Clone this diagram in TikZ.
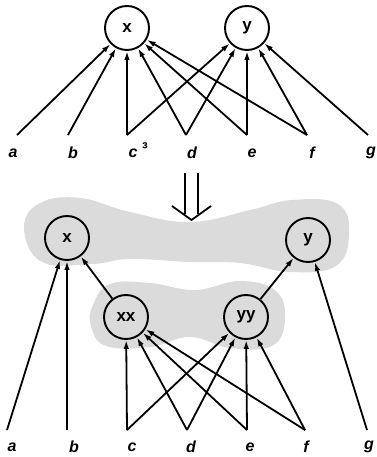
\documentclass[tikz,border=0pt]{standalone}
\usepackage{fontspec}
\setmainfont{Liberation Sans}
\usetikzlibrary{arrows.meta}
\begin{document}
\begin{tikzpicture}[x=1pt,y=-1pt,
  unit/.style={circle,draw,line width=1.9pt,minimum size=44pt,inner sep=0pt,font=\fontsize{17}{19}\selectfont\bfseries},
  lbl/.style={font=\fontsize{16}{18}\selectfont\bfseries\itshape},
  link/.style={line width=1.8pt,-{Latex[length=9pt,width=5.5pt]}},
  cloud/.style={fill=black!14,draw=none}]
\useasboundingbox (0,0) rectangle (376,457);
% grouping clouds
\fill[cloud] plot[smooth cycle,tension=0.7] coordinates {(24,228) (40,203) (80,198) (130,212) (190,222) (250,210) (292,200) (338,204) (349,234) (336,266) (290,272) (240,263) (190,262) (130,259) (92,264) (42,262)};
\fill[cloud] plot[smooth cycle,tension=0.7] coordinates {(93,305) (110,284) (150,283) (195,290) (240,281) (276,291) (285,320) (272,346) (230,348) (190,337) (150,347) (106,346) (91,326)};
% before
\node[unit] (x) at (127,28) {x};
\node[unit] (y) at (247,28) {y};
\foreach \n/\px/\lx in {a/17/13,b/68/73,c/127/133,d/186/192,e/247/252,f/307/312,g/368/371}{
  \coordinate (t\n) at (\px,135);
  \node[lbl] (l\n) at (\lx,153) {\n};
}
\node[font=\fontsize{17}{18}\selectfont\bfseries] (mark) at (145,149) {³};
\foreach \n in {a,b,c,d,e,f} \draw[link] (t\n) -- (x);
\foreach \n in {c,d,e,f,g} \draw[link] (t\n) -- (y);
% transformation
\draw[line width=1.8pt] (185,173) -- (185,214) (198,173) -- (198,214);
\draw[line width=1.8pt] (172,206) -- (191.5,220) -- (211,206);
% after
\node[unit] (x2) at (67,238) {x};
\node[unit] (y2) at (308,240) {y};
\node[unit] (xx) at (126,317) {xx};
\node[unit] (yy) at (246,317) {yy};
\foreach \n/\px/\lx in {a/7/12,b/67/74,c/127/132,d/187/191,e/247/250,f/305/306,g/367/369}{
  \coordinate (s\n) at (\px,430);
  \node[lbl] (m\n) at (\lx,447) {\n};
}
\draw[link] (sa) -- (x2);
\draw[link] (sb) -- (x2);
\draw[link] (xx) -- (x2);
\draw[link] (yy) -- (y2);
\draw[link] (sg) -- (y2);
\foreach \n in {c,d,e,f} {
  \draw[link] (s\n) -- (xx);
  \draw[link] (s\n) -- (yy);
}
\end{tikzpicture}
\end{document}
